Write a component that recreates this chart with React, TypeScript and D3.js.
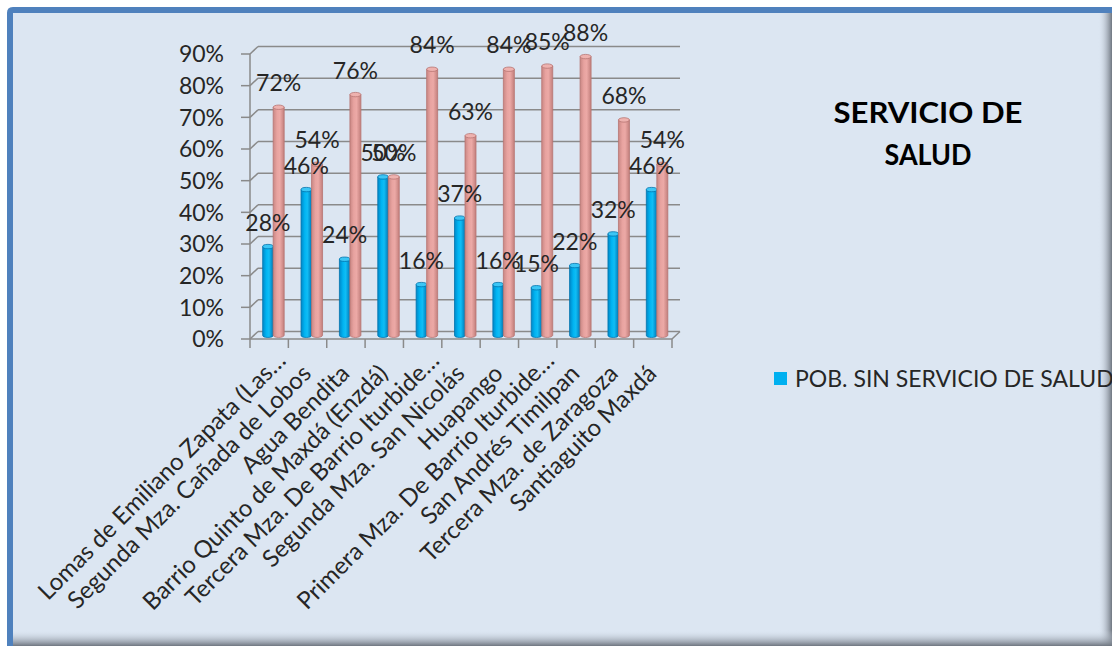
import React from "react";
import * as d3 from "d3";

const categories = [
  "Lomas de Emiliano Zapata (Las…",
  "Segunda Mza. Cañada de Lobos",
  "Agua Bendita",
  "Barrio Quinto de Maxdá (Enzdá)",
  "Tercera Mza. De Barrio Iturbide…",
  "Segunda Mza. San Nicolás",
  "Huapango",
  "Primera Mza. De Barrio Iturbide…",
  "San Andrés Timilpan",
  "Tercera Mza. de Zaragoza",
  "Santiaguito Maxdá",
];
const sinServicio = [0.28, 0.46, 0.24, 0.5, 0.16, 0.37, 0.16, 0.15, 0.22, 0.32, 0.46];
const conServicio = [0.72, 0.54, 0.76, 0.5, 0.84, 0.63, 0.84, 0.85, 0.88, 0.68, 0.54];
const yTicks = [0, 0.1, 0.2, 0.3, 0.4, 0.5, 0.6, 0.7, 0.8, 0.9];
const seriesNames = ["POB. SIN SERVICIO DE SALUD", "POB. CON SERVICIO DE SALUD"];
const titleLines = ["SERVICIO DE", "SALUD"];

const W = 1112;
const H = 646;
const FONT = "Lato, 'Open Sans', sans-serif";

export default function App() {
  const x = d3.scaleBand<string>().domain(categories).range([250, 672]);
  const y = d3.scaleLinear().domain([0, 0.9]).range([339, 54]);
  const ddx = 8;
  const ddy = -7.5;
  const bw = x.bandwidth();
  const pct = d3.format(".0%");
  const gridColor = "#8a8a8a";

  const cyl = (x0: number, w: number, v: number, grad: string, stroke: string, top: string, key: string) => {
    const yt = y(v) + ddy / 2;
    const yb = y(0) + ddy / 2;
    const ry = 2.2;
    return (
      <g key={key}>
        <path
          d={`M${x0},${yt} L${x0},${yb} A${w / 2},${ry} 0 0 0 ${x0 + w},${yb} L${x0 + w},${yt} Z`}
          fill={`url(#${grad})`}
          stroke={stroke}
          strokeWidth={0.8}
        />
        <ellipse cx={x0 + w / 2} cy={yt} rx={w / 2} ry={ry} fill={top} stroke={stroke} strokeWidth={0.8} />
      </g>
    );
  };

  return (
    <svg width={W} height={H} style={{ position: "absolute", left: 0, top: 0 }} fontFamily={FONT}>
      <defs>
        <linearGradient id="gBlue" x1="0" x2="1" y1="0" y2="0">
          <stop offset="0" stopColor="#0088c8" />
          <stop offset="0.35" stopColor="#00b4f2" />
          <stop offset="0.6" stopColor="#10bdf5" />
          <stop offset="1" stopColor="#0079b8" />
        </linearGradient>
        <linearGradient id="gPink" x1="0" x2="1" y1="0" y2="0">
          <stop offset="0" stopColor="#c98784" />
          <stop offset="0.35" stopColor="#e8a3a0" />
          <stop offset="0.6" stopColor="#eca9a6" />
          <stop offset="1" stopColor="#c27f7c" />
        </linearGradient>
        <linearGradient id="shR" x1="0" x2="1" y1="0" y2="0">
          <stop offset="0" stopColor="#dce6f2" stopOpacity="0" />
          <stop offset="1" stopColor="#6f7680" />
        </linearGradient>
        <linearGradient id="shB" x1="0" x2="0" y1="0" y2="1">
          <stop offset="0" stopColor="#dce6f2" stopOpacity="0" />
          <stop offset="1" stopColor="#6f7680" />
        </linearGradient>
      </defs>
      <rect x={0} y={0} width={W} height={H} fill="#ffffff" />
      {/* frame */}
      <rect x={7} y={7} width={W - 7} height={H - 7} rx={5} fill="#dce6f2" />
      <rect x={W - 14} y={7} width={14} height={H - 7} fill="url(#shR)" />
      <rect x={7} y={H - 16} width={W - 7} height={16} fill="url(#shB)" />
      <path d={`M10,${H} L10,13 Q10,10 13,10 L${W},10`} fill="none" stroke="#4f81bd" strokeWidth={6} />

      {/* gridlines / walls */}
      {yTicks.map((t) => (
        <g key={t}>
          <line x1={241} x2={250} y1={y(t)} y2={y(t)} stroke={gridColor} strokeWidth={1.5} />
          <line x1={250} x2={250 + ddx} y1={y(t)} y2={y(t) + ddy} stroke={gridColor} strokeWidth={1.5} />
          <line x1={250 + ddx} x2={672 + ddx} y1={y(t) + ddy} y2={y(t) + ddy} stroke={gridColor} strokeWidth={1.5} />
          <text x={224} y={y(t)} dy="0.36em" textAnchor="end" fontSize={23} fill="#262626">
            {pct(t)}
          </text>
        </g>
      ))}
      <line x1={250} x2={250} y1={y(0.9)} y2={348} stroke={gridColor} strokeWidth={1.5} />
      <line x1={250} x2={672} y1={y(0)} y2={y(0)} stroke={gridColor} strokeWidth={1.5} />
      <line x1={672} x2={672 + ddx} y1={y(0)} y2={y(0) + ddy} stroke={gridColor} strokeWidth={1.5} />
      {categories.map((c, i) => (
        <line key={"tk" + i} x1={(x(c) as number) + bw} x2={(x(c) as number) + bw} y1={y(0)} y2={348} stroke={gridColor} strokeWidth={1.5} />
      ))}

      {/* bars */}
      {categories.map((c, i) => {
        const cx = (x(c) as number) + bw / 2 + ddx / 2;
        return (
          <g key={"b" + i}>
            {cyl(cx - 10.5, 10.5, sinServicio[i], "gBlue", "#0073ad", "#3cc6f5", "s" + i)}
            {cyl(cx, 11, conServicio[i], "gPink", "#b87572", "#eeb2af", "c" + i)}
          </g>
        );
      })}

      {/* data labels */}
      {categories.map((c, i) => {
        const cx = (x(c) as number) + bw / 2 + ddx / 2;
        return (
          <g key={"l" + i} fontSize={23} fill="#262626" textAnchor="middle">
            <text x={cx - 5.25} y={y(sinServicio[i]) + ddy / 2 - 16}>{pct(sinServicio[i])}</text>
            <text x={cx + 5.5} y={y(conServicio[i]) + ddy / 2 - 16}>{pct(conServicio[i])}</text>
          </g>
        );
      })}

      {/* category labels */}
      {categories.map((c, i) => {
        const trunc = c.endsWith("…");
        const ex = (x(c) as number) + bw / 2 + 5 + (trunc ? 13 : 0);
        const ey = 375 - (trunc ? 13 : 0);
        return (
          <text key={"c" + i} transform={`translate(${ex},${ey}) rotate(-45)`} textAnchor="end" fontSize={24} fill="#262626">
            {c}
          </text>
        );
      })}

      {/* title */}
      {titleLines.map((t, i) => (
        <text
          key={t}
          x={928}
          y={123 + i * 42}
          textAnchor="middle"
          fontSize={29}
          fontWeight="bold"
          fill="#000"
          textLength={i === 0 ? 189 : 87}
          lengthAdjust="spacingAndGlyphs"
        >
          {t}
        </text>
      ))}

      {/* legend */}
      <rect x={774} y={372} width={13} height={13} fill="#00b0f0" />
      <text x={795} y={386.5} fontSize={23} fill="#262626">{seriesNames[0]}</text>
    </svg>
  );
}
